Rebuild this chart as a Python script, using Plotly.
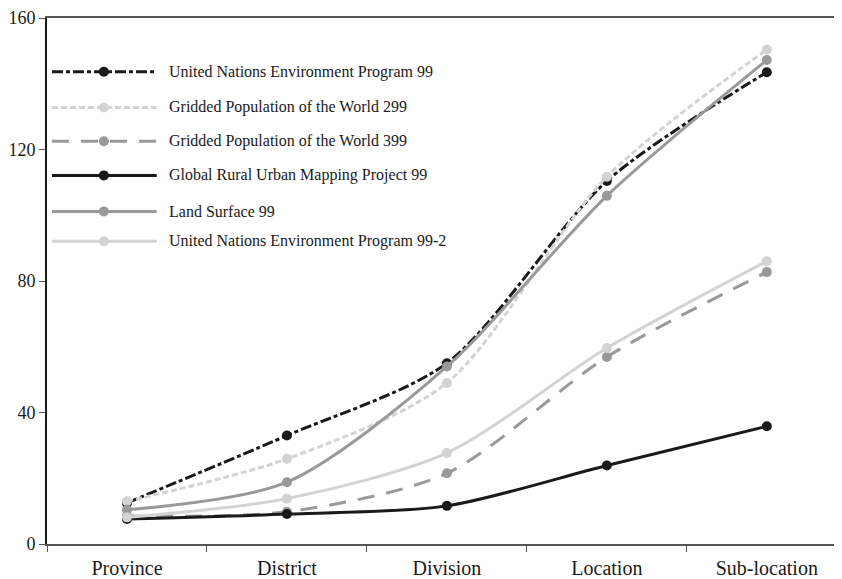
import plotly.graph_objects as go

categories = ["Province", "District", "Division", "Location", "Sub-location"]

unep99 = [12.5, 33.0, 55.0, 110.4, 143.5]
gpw299 = [13.0, 25.9, 49.0, 111.7, 150.4]
gpw399 = [8.5, 9.8, 21.5, 56.9, 82.7]
grump99 = [7.6, 9.1, 11.6, 23.9, 35.8]
land99 = [10.4, 18.8, 54.0, 105.9, 147.2]
unep99_2 = [8.1, 13.8, 27.7, 59.6, 86.0]

y_ticks = [0, 40, 80, 120, 160]

series_names = [
    "United Nations Environment Program 99",
    "Gridded Population of the World 299",
    "Gridded Population of the World 399",
    "Global Rural Urban Mapping Project 99",
    "Land Surface 99",
    "United Nations Environment Program 99-2",
]
series_values = [unep99, gpw299, gpw399, grump99, land99, unep99_2]
colors = ["#1a1a1a", "#d3d3d3", "#999999", "#1a1a1a", "#999999", "#d3d3d3"]
dashes = ["11px,3px,4px,3px", "6px,3px", "17px,12px", "solid", "solid", "solid"]

# plot area in page pixels: x 45..842, y 16..545
PX0, PX1, PY0, PY1 = 45.0, 842.0, 16.0, 545.0
def px(p):
    return (p - PX0) / (PX1 - PX0)
def py(p):
    return (PY1 - p) / (PY1 - PY0)

fig = go.Figure()
for name, vals, col, dash in zip(series_names, series_values, colors, dashes):
    fig.add_trace(go.Scatter(
        x=categories, y=vals, name=name, mode="lines+markers",
        line=dict(color=col, width=3, dash=dash, shape="spline", smoothing=0.8),
        marker=dict(color=col, size=10),
        showlegend=False,
    ))

# manual legend (long sample lines like the reference)
legend_rows = [70, 106, 140, 174.3, 210.5, 240.5]
shapes = []
annotations = []
for name, col, dash, row in zip(series_names, colors, dashes, legend_rows):
    shapes.append(dict(type="line", xref="paper", yref="paper",
                       x0=px(50), x1=px(155), y0=py(row), y1=py(row),
                       line=dict(color=col, width=3, dash=dash)))
    shapes.append(dict(type="circle", xref="paper", yref="paper",
                       xsizemode="pixel", ysizemode="pixel",
                       xanchor=px(102), yanchor=py(row),
                       x0=-5, x1=5, y0=-5, y1=5,
                       fillcolor=col, line=dict(color=col, width=0)))
    annotations.append(dict(xref="paper", yref="paper", x=px(165), y=py(row),
                            xanchor="left", yanchor="middle", showarrow=False,
                            text=name,
                            font=dict(family="Liberation Serif", size=16, color="#1a1a1a")))

fig.update_layout(
    width=834, height=571,
    margin=dict(l=37, r=0, t=8, b=34),
    paper_bgcolor="white", plot_bgcolor="white",
    font=dict(family="Liberation Serif", color="#1a1a1a", size=18),
    showlegend=False,
    shapes=shapes,
    annotations=annotations,
    xaxis=dict(
        type="category", range=[-0.5, 4.47],
        showline=True, linecolor="#555555", linewidth=1.5, mirror=True,
        ticks="outside", tickson="boundaries", ticklen=6, tickcolor="#555555",
        showgrid=False, zeroline=False, ticklabelstandoff=5,
        ticklabeloverflow="allow",
        tickfont=dict(size=20, family="Liberation Serif", color="#1a1a1a"),
    ),
    yaxis=dict(
        range=[0, 160], tickvals=y_ticks,
        showline=True, linecolor="#1a1a1a", linewidth=2, mirror=False,
        ticks="outside", ticklen=6, tickcolor="#555555",
        showgrid=False, zeroline=False, ticklabeloverflow="allow",
        tickfont=dict(size=18, family="Liberation Serif", color="#1a1a1a"),
    ),
)

fig.write_html("out.html")
